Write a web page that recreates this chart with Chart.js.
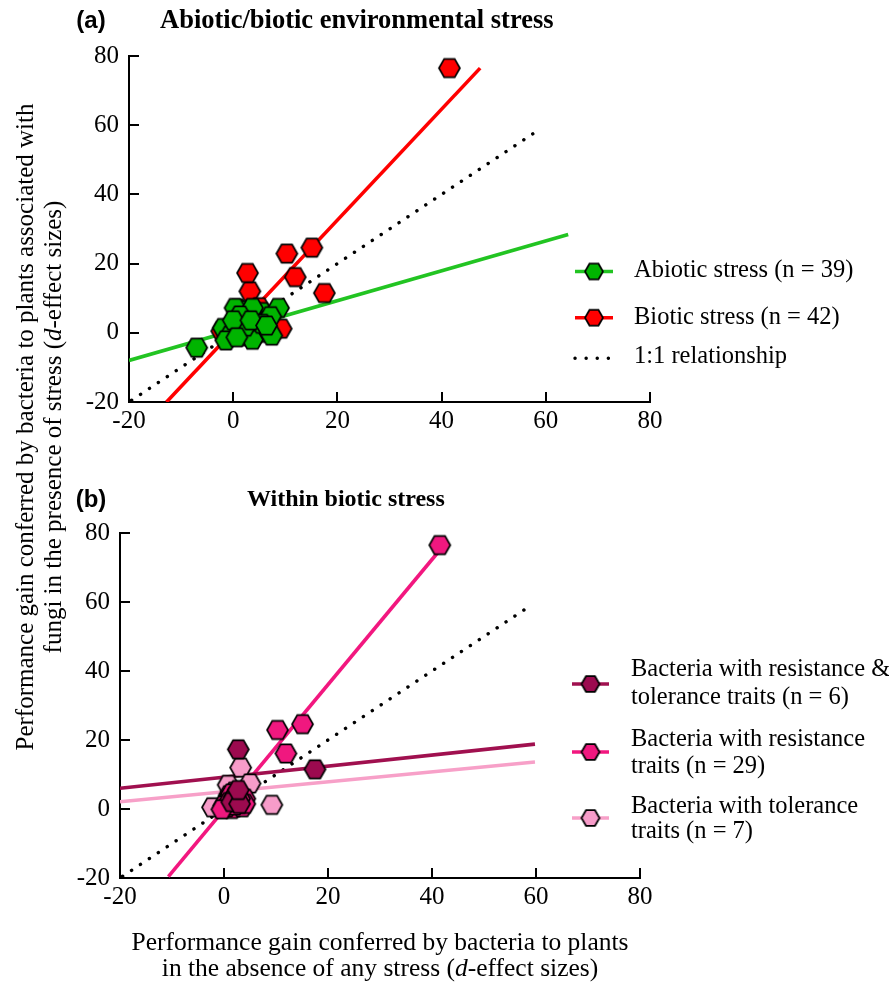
<!DOCTYPE html>
<html>
<head>
<meta charset="utf-8">
<script src="https://cdn.jsdelivr.net/npm/chart.js@4.4.1/dist/chart.umd.min.js"></script>
<style>
  body { margin: 0; background: #fff; }
  #wrap { position: relative; width: 889px; height: 982px; overflow: hidden;
          font-family: "Liberation Serif", "Times New Roman", serif; color: #000; }
  canvas { position: absolute; left: 0; }
  #chartA { top: 0; }
  #chartB { top: 460px; }
  #ytitle { position: absolute; left: -411px; top: 399px; width: 900px; height: 56px;
            transform: rotate(-90deg); text-align: center; font-size: 25px; line-height: 28px; }
  #xtitle { position: absolute; left: 30px; top: 929px; width: 700px;
            text-align: center; font-size: 25.5px; line-height: 26px; }
</style>
</head>
<body>
<div id="wrap">
  <canvas id="chartA" width="889" height="460"></canvas>
  <canvas id="chartB" width="889" height="522"></canvas>
  <div id="ytitle">Performance gain conferred by bacteria to plants associated with<br>fungi in the presence of stress (<i>d</i>-effect sizes)</div>
  <div id="xtitle">Performance gain conferred by bacteria to plants<br>in the absence of any stress (<i>d</i>-effect sizes)</div>
</div>
<script>
// ---- panel (a) data ----
const abioticX = [1.0, 2.0, 3.0, 4.5, 5.0, 6.0, 2.5, 1.5, 3.5, 4.0, 0.5, 2.0, 5.5, 6.5, 3.0, 1.0, 2.5, 4.5, 5.0, 1.5,
                  -7.0, 0.35, 3.7, 8.7, 1.3, 7.2, -1.9, -0.6, 1.6, 4.2, 7.4, -1.4, 3.7, 2.3, 5.5, 0.0, 3.4, 6.4, 0.7];
const abioticY = [2.0, 0.5, 2.5, 1.5, 4.0, 0.5, 4.5, 3.0, 5.5, -0.5, 1.0, 6.0, 6.0, 3.5, 0.0, -0.5, -1.0, 3.0, 0.0, 6.5,
                  -4.3, 7.2, 7.2, 7.2, 5.0, 4.8, 1.4, -0.8, -0.1, 0.2, -0.8, -2.2, -2.0, 1.8, 2.6, 3.6, 3.6, 2.1, -1.3];
const abioticFitX = [-20, 64.3];
const abioticFitY = [-8.0, 28.4];
const bioticFitX = [-12.8, 47.4];
const bioticFitY = [-20, 76.5];
const oneToOneX = [-19.5, 58.5];
const oneToOneY = [-19.5, 58.5];

// ---- panel (b) data ----
const resTolX = [2.0, 1.5, 3.0, 2.75, 17.5, 2.75];
const resTolY = [3.5, 2.0, 1.5, 17.3, 11.5, 5.5];
const resX = [1.0, 1.5, 2.0, 2.5, 3.0, 1.0, 2.0, 3.5, 0.5, 1.5, 2.5, 3.0, 4.0, 1.0, 2.0, 0.0, 3.5, 2.5, 1.5, 4.0, 0.5, 3.0, 2.0, 1.0,
              41.5, 10.3, 15.1, 11.9, -0.4];
const resY = [1.0, 2.5, 2.0, 3.5, 1.0, 4.0, 0.5, 2.5, 2.0, 0.0, 1.5, 4.0, 3.0, 3.0, 5.0, 1.0, 0.5, 2.5, 4.5, 1.5, 0.5, 3.0, 1.0, 2.0,
              76.5, 22.9, 24.6, 16.1, -0.1];
const tolX = [1.5, 2.5, 3.2, 5.0, 9.2, -2.2, 0.8];
const tolY = [5.0, 3.0, 12.0, 7.4, 1.2, 0.5, 7.0];
const resTolFitX = [-20, 59.8];
const resTolFitY = [6.0, 18.8];
const resFitX = [-10.7, 41.2];
const resFitY = [-19.6, 74.5];
const tolFitX = [-20, 59.8];
const tolFitY = [2.1, 13.6];

// biotic stress in (a) is the union of the three groups in (b)
const bioticX = [...tolX, ...resX, ...resTolX];
const bioticY = [...tolY, ...resY, ...resTolY];

const legendA = [['Abiotic stress (n = 39)'], ['Biotic stress (n = 42)'], ['1:1 relationship']];
const legendB = [['Bacteria with resistance &', 'tolerance traits (n = 6)'],
                 ['Bacteria with resistance', 'traits (n = 29)'],
                 ['Bacteria with tolerance', 'traits (n = 7)']];

const SERIF = '"Liberation Serif", "Times New Roman", serif';

function pts(xs, ys) {
  return xs.map((x, i) => ({ x: x, y: ys[i] }));
}

function hexImage(fill, w) {
  const c = document.createElement('canvas');
  c.width = w + 4;
  c.height = Math.ceil(w * 0.866) + 4;
  const g = c.getContext('2d');
  const cx = c.width / 2, cy = c.height / 2, r = w / 2;
  g.beginPath();
  for (let i = 0; i < 6; i++) {
    const a = Math.PI / 3 * i;
    g.lineTo(cx + r * Math.cos(a), cy + r * Math.sin(a));
  }
  g.closePath();
  g.fillStyle = fill;
  g.fill();
  g.lineWidth = 1.7;
  g.strokeStyle = '#000';
  g.stroke();
  return c;
}

function fitLine(xs, ys, color, order, dash) {
  return {
    data: pts(xs, ys), showLine: true, pointRadius: 0, borderColor: color,
    borderWidth: dash ? 3.4 : 3.6, borderDash: dash || [], borderCapStyle: dash ? 'round' : 'butt',
    order: order
  };
}

function scatterSet(label, xs, ys, img, order) {
  return { label: label, data: pts(xs, ys), pointStyle: img, pointRadius: 10, order: order };
}

// inward tick marks on both axes
const inTicks = {
  id: 'inTicks',
  afterDraw(chart) {
    const ctx = chart.ctx, a = chart.chartArea, sx = chart.scales.x, sy = chart.scales.y;
    ctx.save();
    ctx.strokeStyle = '#000';
    ctx.lineWidth = 2;
    ctx.beginPath();
    sx.ticks.forEach(t => {
      const px = Math.round(sx.getPixelForValue(t.value));
      ctx.moveTo(px, a.bottom);
      ctx.lineTo(px, a.bottom - 10);
    });
    sy.ticks.forEach(t => {
      const py = Math.round(sy.getPixelForValue(t.value));
      ctx.moveTo(a.left, py);
      ctx.lineTo(a.left + 10, py);
    });
    ctx.stroke();
    ctx.restore();
  }
};

const annotate = {
  id: 'annotate',
  afterDraw(chart, args, o) {
    const ctx = chart.ctx;
    ctx.save();
    ctx.fillStyle = '#000';
    ctx.textBaseline = 'middle';
    ctx.textAlign = 'center';
    ctx.font = 'bold 24px "Liberation Sans Narrow", "Liberation Sans", sans-serif';
    ctx.fillText(o.tag, o.tagX, o.titleY);
    ctx.textAlign = 'left';
    ctx.font = 'bold ' + o.titleSize + 'px ' + SERIF;
    ctx.fillText(o.title, o.titleX, o.titleY);

    ctx.font = '24.5px ' + SERIF;
    o.items.forEach(it => {
      ctx.beginPath();
      ctx.strokeStyle = it.color;
      if (it.dash) {
        ctx.setLineDash(it.dash);
        ctx.lineCap = 'round';
        ctx.lineWidth = 3.4;
      } else {
        ctx.setLineDash([]);
        ctx.lineCap = 'butt';
        ctx.lineWidth = 3.6;
      }
      ctx.moveTo(o.lx0, it.y);
      ctx.lineTo(o.lx1, it.y);
      ctx.stroke();
      ctx.setLineDash([]);
      if (it.marker) {
        const m = it.marker;
        ctx.drawImage(m, (o.lx0 + o.lx1) / 2 - m.width / 2, it.y - m.height / 2);
      }
      ctx.fillStyle = '#000';
      it.text.forEach((t, k) => ctx.fillText(t, o.tx, it.textY[k]));
    });
    ctx.restore();
  }
};

function axes() {
  const tickFont = { family: SERIF, size: 25 };
  return {
    x: {
      type: 'linear', min: -20, max: 80,
      ticks: { stepSize: 20, color: '#000', font: tickFont, padding: 4, maxRotation: 0 },
      grid: { drawOnChartArea: false, drawTicks: false },
      border: { color: '#000', width: 2 },
      afterFit: s => { s.height = 50; }
    },
    y: {
      type: 'linear', min: -20, max: 80,
      ticks: { stepSize: 20, color: '#000', font: tickFont, padding: 10 },
      grid: { drawOnChartArea: false, drawTicks: false },
      border: { color: '#000', width: 2 },
      afterFit: s => { s.width = 50; }
    }
  };
}

// ---- panel (a) ----
const greenHex = hexImage('#00b400', 21);
const redHex = hexImage('#ff0000', 21);
new Chart(document.getElementById('chartA'), {
  type: 'scatter',
  data: {
    datasets: [
      scatterSet(legendA[0][0], abioticX, abioticY, greenHex, 1),
      scatterSet(legendA[1][0], bioticX, bioticY, redHex, 2),
      fitLine(abioticFitX, abioticFitY, '#22c422', 3),
      fitLine(bioticFitX, bioticFitY, '#ff0000', 4),
      fitLine(oneToOneX, oneToOneY, '#000', 5, [0.1, 10.6])
    ]
  },
  options: {
    responsive: false,
    animation: false,
    layout: { padding: { left: 79, right: 239, top: 56, bottom: 8 } },
    plugins: {
      legend: { display: false },
      tooltip: { enabled: false },
      annotate: {
        tag: '(a)', tagX: 91, title: 'Abiotic/biotic environmental stress', titleX: 160, titleY: 21, titleSize: 26.5,
        lx0: 575, lx1: 613, tx: 634,
        items: [
          { color: '#22c422', marker: hexImage('#00b400', 18), y: 271.5, text: legendA[0], textY: [271] },
          { color: '#ff0000', marker: hexImage('#ff0000', 18), y: 317.7, text: legendA[1], textY: [318] },
          { color: '#000', dash: [0.1, 11], y: 358.3, text: legendA[2], textY: [357] }
        ]
      }
    },
    scales: axes()
  },
  plugins: [inTicks, annotate]
});

// ---- panel (b) ----
const darkHex = hexImage('#9c0a4f', 21);
const pinkHex = hexImage('#f0187f', 21);
const lightHex = hexImage('#f79cc9', 21);
new Chart(document.getElementById('chartB'), {
  type: 'scatter',
  data: {
    datasets: [
      scatterSet('Bacteria with resistance & tolerance traits (n = 6)', resTolX, resTolY, darkHex, 1),
      scatterSet('Bacteria with resistance traits (n = 29)', resX, resY, pinkHex, 2),
      scatterSet('Bacteria with tolerance traits (n = 7)', tolX, tolY, lightHex, 3),
      fitLine(resTolFitX, resTolFitY, '#a0104f', 4),
      fitLine(tolFitX, tolFitY, '#f7a0c8', 5),
      fitLine(resFitX, resFitY, '#f2177f', 6),
      fitLine(oneToOneX, oneToOneY, '#000', 7, [0.1, 10.6])
    ]
  },
  options: {
    responsive: false,
    animation: false,
    layout: { padding: { left: 70, right: 249, top: 73, bottom: 54 } },
    plugins: {
      legend: { display: false },
      tooltip: { enabled: false },
      annotate: {
        tag: '(b)', tagX: 91, title: 'Within biotic stress', titleX: 247, titleY: 40, titleSize: 24,
        lx0: 572, lx1: 609, tx: 631,
        items: [
          { color: '#a0104f', marker: hexImage('#9c0a4f', 18), y: 224, text: legendB[0], textY: [210, 238] },
          { color: '#f2177f', marker: hexImage('#f0187f', 18), y: 292, text: legendB[1], textY: [280, 307] },
          { color: '#f7a0c8', marker: hexImage('#f79cc9', 18), y: 358, text: legendB[2], textY: [347, 372] }
        ]
      }
    },
    scales: axes()
  },
  plugins: [inTicks, annotate]
});
</script>
</body>
</html>
